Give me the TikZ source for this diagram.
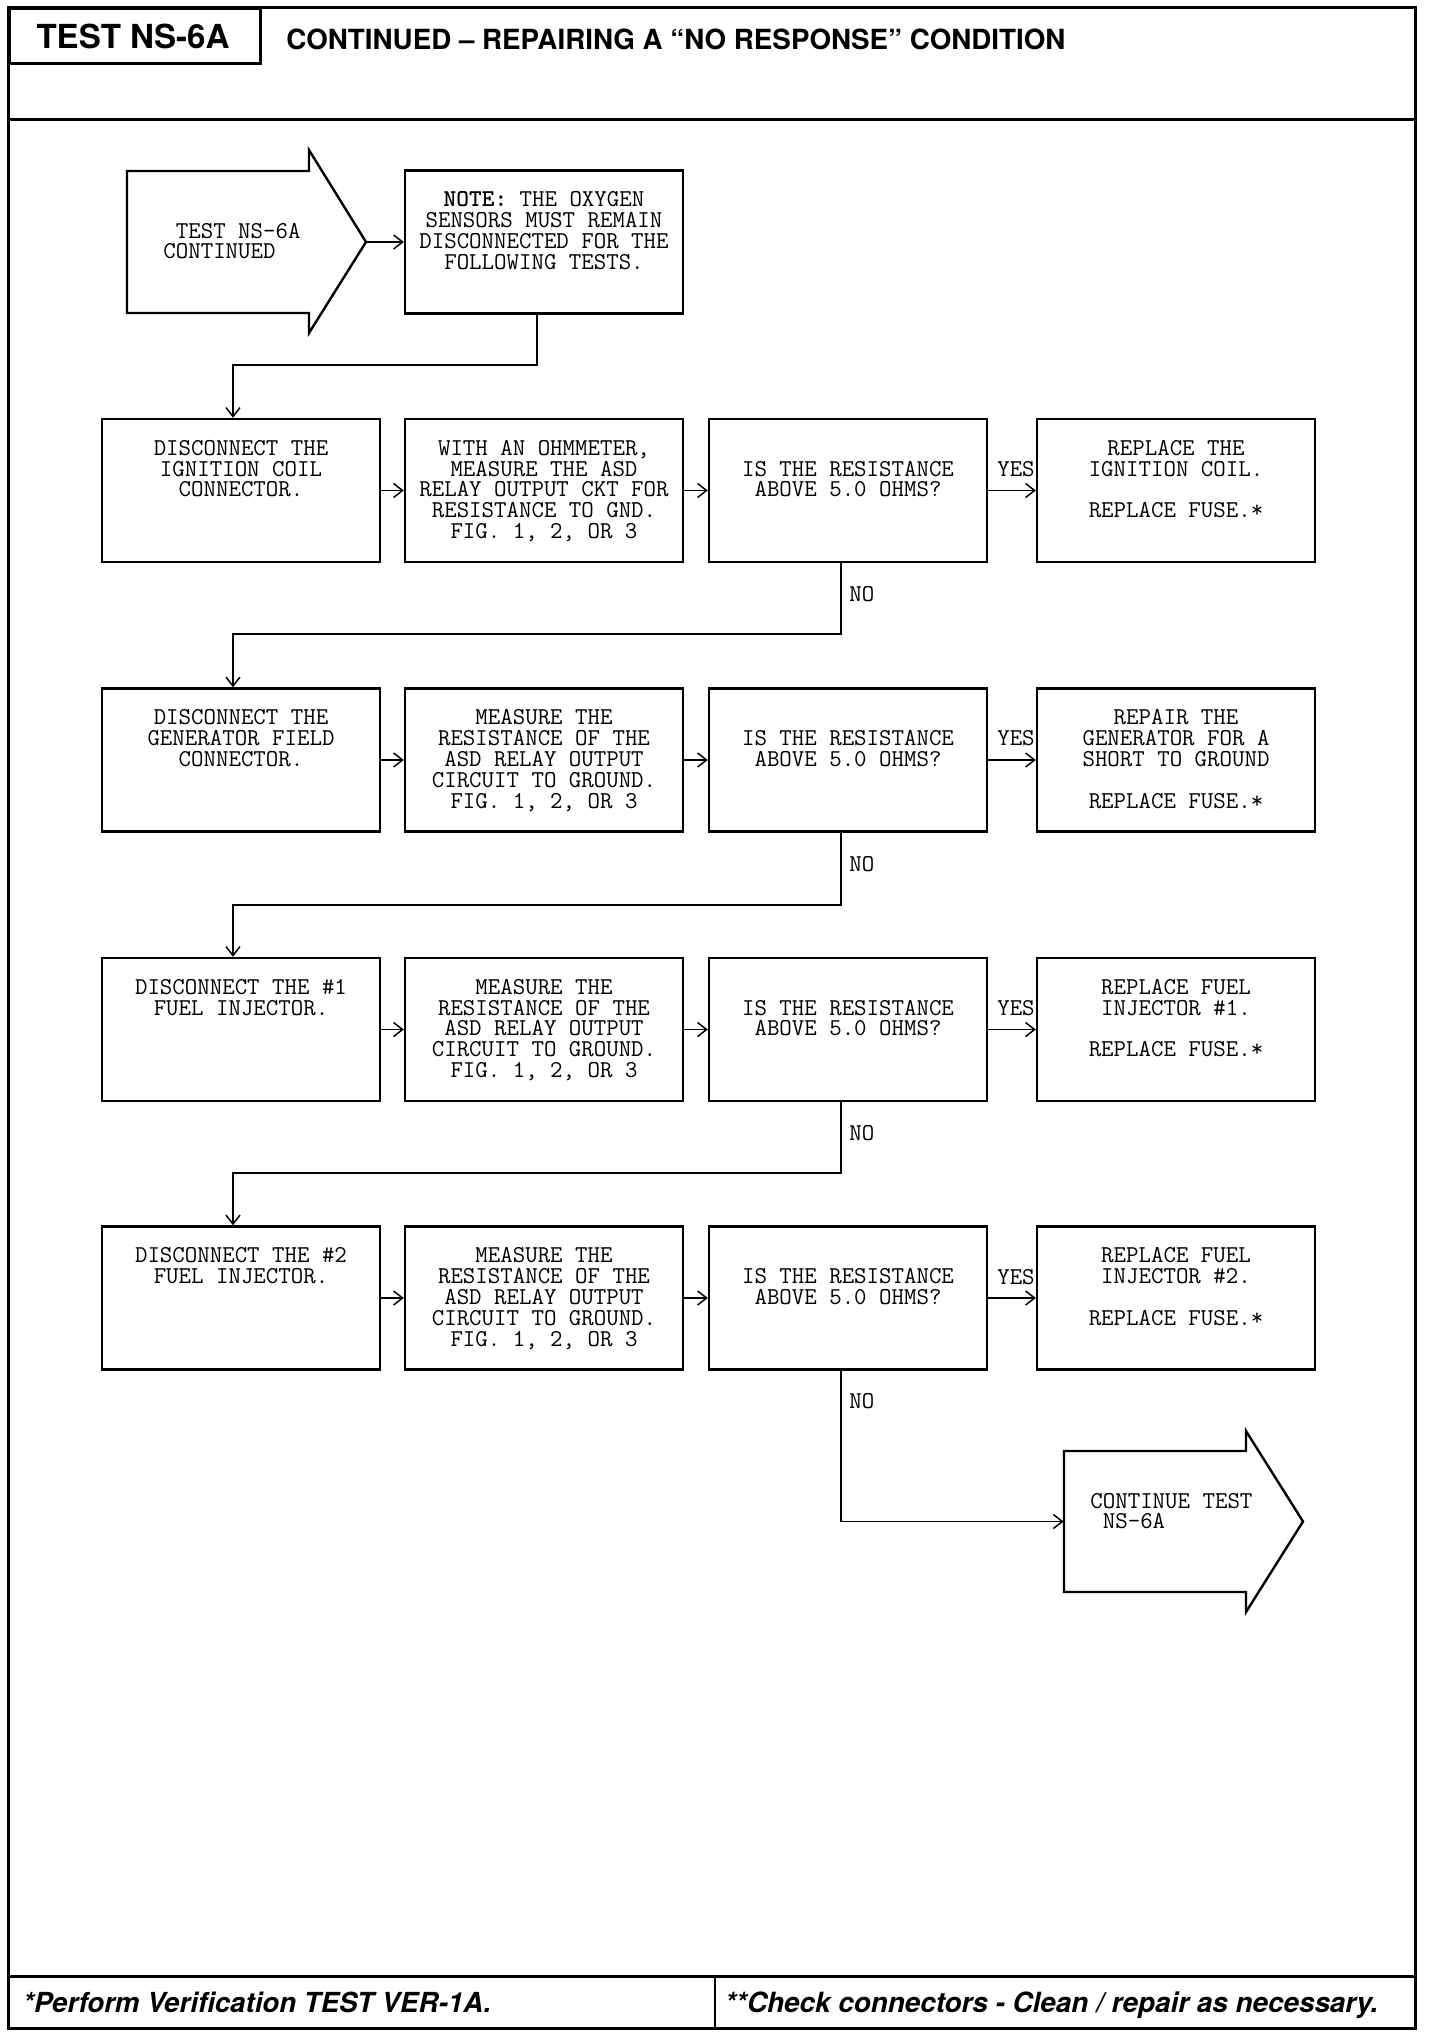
\documentclass[tikz,border=0pt]{standalone}
\usepackage{fontspec}
\usetikzlibrary{arrows.meta,calc}
\newfontfamily\hdr{TeX Gyre Heros}
\newfontfamily\ttbf{lmmonolt10-bold.otf}
\newlength\pxu \setlength\pxu{0.5pt}
\begin{document}
\begin{tikzpicture}[x=0.5pt,y=-0.5pt,
  box/.style={draw, line width=1.2pt, minimum width=139pt, minimum height=71.5pt, inner sep=0pt},
  txt/.style={font=\ttfamily\fontsize{12.1}{10.4}\selectfont, align=center, inner sep=0pt, anchor=north},
  lbl/.style={font=\ttfamily\fontsize{12.1}{10.4}\selectfont, inner sep=0pt},
  conn/.style={line width=0.75pt, -{Straight Barb[length=4.5pt,width=7pt]}},
  frame/.style={line width=1.5pt},
  outline/.style={line width=1.2pt, line join=miter},
  ghost/.style={inner sep=0pt, draw=none},
  ]
\useasboundingbox (0,0) rectangle (1440,2034);
\fill[white] (0,0) rectangle (1440,2034);

% frame, header, footer
\draw[frame] (8,7) rectangle (1415,2028);
\node[draw, line width=1.5pt, minimum width=125.5pt, minimum height=27.5pt, anchor=north west, inner sep=0pt] (titlebox) at (8,7) {};
\node[anchor=base, inner sep=0pt] (titletext) at (133,48) {\resizebox{193\pxu}{!}{\hdr\bfseries TEST NS-6A}};
\node[anchor=base west, inner sep=0pt] (heading) at (286,49) {\resizebox{779\pxu}{!}{\hdr\bfseries CONTINUED – REPAIRING A “NO RESPONSE” CONDITION}};
\draw[frame] (8,119) -- (1415,119);
\draw[frame] (8,1976) -- (1415,1976);
\draw[line width=1pt] (715,1976) -- (715,2028);
\node[anchor=base west, inner sep=0pt] (foot1) at (23,2012) {\resizebox{468\pxu}{!}{\hdr\bfseries\itshape *Perform Verification TEST VER-1A.}};
\node[anchor=base west, inner sep=0pt] (foot2) at (725,2012) {\resizebox{653\pxu}{!}{\hdr\bfseries\itshape **Check connectors - Clean / repair as necessary.}};

% start arrow
\node[ghost, minimum width=91pt, minimum height=71pt] (startbody) at (218,242) {};
\draw[outline] (127,171) -- (309,171) -- (309,150) -- (366,242) -- (309,333) -- (309,313) -- (127,313) -- cycle;
\coordinate (starttip) at (366,242);
\node[lbl, align=left, anchor=north west] (starttext) at (163,222.6) {\phantom{X}TEST NS-6A\\CONTINUED};

% note
\node[box] (note) at (544,242) {};
\node[txt] (notetext) at ([yshift=-11pt]note.north) {{\ttbf NOTE:} THE OXYGEN\\SENSORS MUST REMAIN\\DISCONNECTED FOR THE\\FOLLOWING TESTS.};

% row 1
\node[box] (r1c1) at (241,490.5) {};
\node[box] (r1c2) at (544,490.5) {};
\node[box] (r1c3) at (848,490.5) {};
\node[box] (r1c4) at (1176,490.5) {};
\node[txt] (t11) at ([yshift=-11pt]r1c1.north) {DISCONNECT THE\\IGNITION COIL\\CONNECTOR.};
\node[txt] (t12) at ([yshift=-11pt]r1c2.north) {WITH AN OHMMETER,\\MEASURE THE ASD\\RELAY OUTPUT CKT FOR\\RESISTANCE TO GND.\\FIG. 1, 2, OR 3};
\node[txt] (t13) at ([yshift=-21.4pt]r1c3.north) {IS THE RESISTANCE\\ABOVE 5.0 OHMS?};
\node[txt] (t14) at ([yshift=-11pt]r1c4.north) {REPLACE THE\\IGNITION COIL.\\\mbox{}\\REPLACE FUSE.*};

% row 2
\node[box] (r2c1) at (241,760) {};
\node[box] (r2c2) at (544,760) {};
\node[box] (r2c3) at (848,760) {};
\node[box] (r2c4) at (1176,760) {};
\node[txt] (t21) at ([yshift=-11pt]r2c1.north) {DISCONNECT THE\\GENERATOR FIELD\\CONNECTOR.};
\node[txt] (t22) at ([yshift=-11pt]r2c2.north) {MEASURE THE\\RESISTANCE OF THE\\ASD RELAY OUTPUT\\CIRCUIT TO GROUND.\\FIG. 1, 2, OR 3};
\node[txt] (t23) at ([yshift=-21.4pt]r2c3.north) {IS THE RESISTANCE\\ABOVE 5.0 OHMS?};
\node[txt] (t24) at ([yshift=-11pt]r2c4.north) {REPAIR THE\\GENERATOR FOR A\\SHORT TO GROUND\\\mbox{}\\REPLACE FUSE.*};

% row 3
\node[box] (r3c1) at (241,1029.5) {};
\node[box] (r3c2) at (544,1029.5) {};
\node[box] (r3c3) at (848,1029.5) {};
\node[box] (r3c4) at (1176,1029.5) {};
\node[txt] (t31) at ([yshift=-11pt]r3c1.north) {DISCONNECT THE \#1\\FUEL INJECTOR.};
\node[txt] (t32) at ([yshift=-11pt]r3c2.north) {MEASURE THE\\RESISTANCE OF THE\\ASD RELAY OUTPUT\\CIRCUIT TO GROUND.\\FIG. 1, 2, OR 3};
\node[txt] (t33) at ([yshift=-21.4pt]r3c3.north) {IS THE RESISTANCE\\ABOVE 5.0 OHMS?};
\node[txt] (t34) at ([yshift=-11pt]r3c4.north) {REPLACE FUEL\\INJECTOR \#1.\\\mbox{}\\REPLACE FUSE.*};

% row 4
\node[box] (r4c1) at (241,1298) {};
\node[box] (r4c2) at (544,1298) {};
\node[box] (r4c3) at (848,1298) {};
\node[box] (r4c4) at (1176,1298) {};
\node[txt] (t41) at ([yshift=-11pt]r4c1.north) {DISCONNECT THE \#2\\FUEL INJECTOR.};
\node[txt] (t42) at ([yshift=-11pt]r4c2.north) {MEASURE THE\\RESISTANCE OF THE\\ASD RELAY OUTPUT\\CIRCUIT TO GROUND.\\FIG. 1, 2, OR 3};
\node[txt] (t43) at ([yshift=-21.4pt]r4c3.north) {IS THE RESISTANCE\\ABOVE 5.0 OHMS?};
\node[txt] (t44) at ([yshift=-11pt]r4c4.north) {REPLACE FUEL\\INJECTOR \#2.\\\mbox{}\\REPLACE FUSE.*};

% end arrow
\node[ghost, minimum width=91pt, minimum height=70.5pt] (endbody) at (1155,1521.5) {};
\draw[outline] (1064,1451) -- (1246,1451) -- (1246,1431) -- (1303,1521.5) -- (1246,1612) -- (1246,1592) -- (1064,1592) -- cycle;
\node[lbl, align=left, anchor=north west] (endtext) at (1090,1492.6) {CONTINUE TEST\\\phantom{X}NS-6A};

% labels
\node[lbl] (yes1) at (1016,469) {YES};
\node[lbl] (yes2) at (1016,738.5) {YES};
\node[lbl] (yes3) at (1016,1008) {YES};
\node[lbl] (yes4) at (1016,1277) {YES};
\node[lbl, anchor=west] (no1) at (849,594) {NO};
\node[lbl, anchor=west] (no2) at (849,864) {NO};
\node[lbl, anchor=west] (no3) at (849,1133) {NO};
\node[lbl, anchor=west] (no4) at (849,1401) {NO};

% junction coordinates
\coordinate (j0) at (233,365);
\coordinate (j1) at (233,634);
\coordinate (j2) at (233,905);
\coordinate (j3) at (233,1173);

% connectors
\draw[conn] (starttip) -- (note.west);
\draw[conn] ([xshift=-3.5pt]note.south) |- (j0) -- ([xshift=-4pt]r1c1.north);
\foreach \r in {1,2,3,4}{
  \draw[conn] (r\r c1.east) -- (r\r c2.west);
  \draw[conn] (r\r c2.east) -- (r\r c3.west);
  \draw[conn] (r\r c3.east) -- (r\r c4.west);
}
\draw[conn] ([xshift=-3.5pt]r1c3.south) |- (j1) -- ([xshift=-4pt]r2c1.north);
\draw[conn] ([xshift=-3.5pt]r2c3.south) |- (j2) -- ([xshift=-4pt]r3c1.north);
\draw[conn] ([xshift=-3.5pt]r3c3.south) |- (j3) -- ([xshift=-4pt]r4c1.north);
\draw[conn] ([xshift=-3.5pt]r4c3.south) |- (endbody.west);
\end{tikzpicture}
\end{document}
